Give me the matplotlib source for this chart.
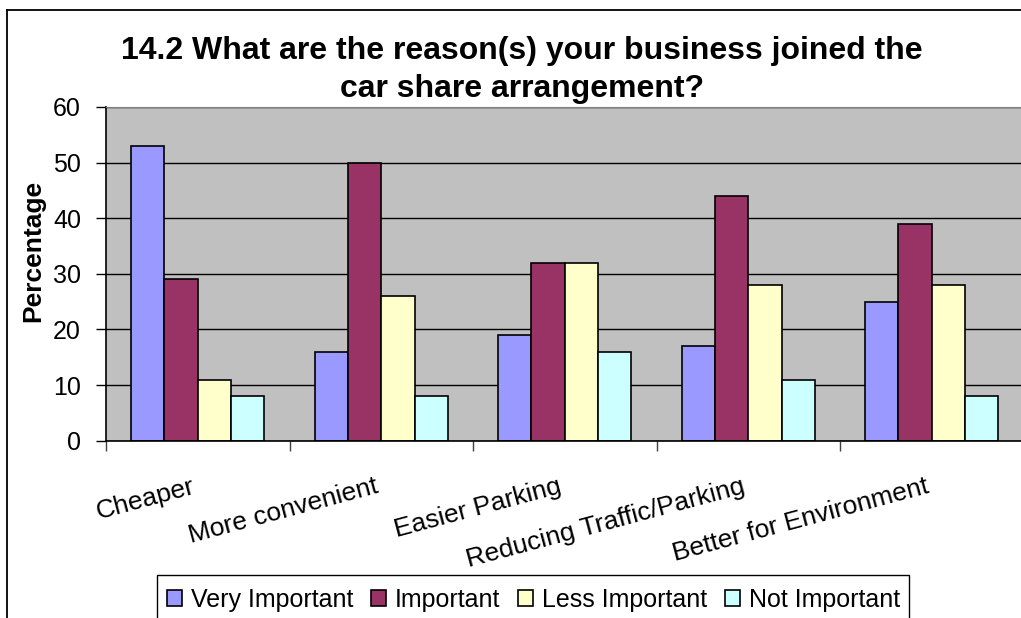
import numpy as np
import matplotlib
matplotlib.use('Agg')
import matplotlib.pyplot as plt
from matplotlib.lines import Line2D
from matplotlib.patches import Rectangle
from matplotlib.transforms import blended_transform_factory

plt.rcParams['font.family'] = ['Liberation Sans', 'DejaVu Sans']

reasons = ['Cheaper', 'More convenient', 'Easier Parking',
           'Reducing Traffic/Parking', 'Better for Environment']
levels = ['Very Important', 'Important', 'Less Important', 'Not Important']
very_important = [53, 16, 19, 17, 25]
important = [29, 50, 32, 44, 39]
less_important = [11, 26, 32, 28, 28]
not_important = [8, 8, 16, 11, 8]
series = [very_important, important, less_important, not_important]
colors = ['#9999FF', '#993366', '#FFFFCC', '#CCFFFF']

W, H = 1021, 618
fig = plt.figure(figsize=(W / 100, H / 100), dpi=100)
ax = fig.add_axes([106 / W, 1 - 440.7 / H, 917.5 / W, 333.7 / H])
ax.set_facecolor('#C0C0C0')

x = np.arange(len(reasons))
w = 1 / 5.5
bars = []
for j, (vals, col) in enumerate(zip(series, colors)):
    b = ax.bar(x + (j - 1.5) * w, vals, w, color=col, edgecolor='black',
               linewidth=1.2, label=levels[j])
    bars.append(b)

ax.set_xlim(-0.5, len(reasons) - 0.5)
ax.set_ylim(0, 60)
ax.set_yticks(range(0, 61, 10))
ax.yaxis.grid(True, color='black', lw=1.0)
ax.set_axisbelow(True)
ax.tick_params(axis='y', labelsize=18, length=7, width=1, pad=11)
ax.set_xticks(np.arange(-0.5, len(reasons), 1.0))
ax.set_xticklabels([])
ax.tick_params(axis='x', length=7, width=1, color='#404040')
for s in ['left', 'bottom']:
    ax.spines[s].set_color('black')
    ax.spines[s].set_linewidth(1.2)
ax.spines['top'].set_color('#808080')
ax.spines['right'].set_color('#808080')

ax.set_ylabel('Percentage', fontsize=19, fontweight='bold')
ax.yaxis.set_label_coords(-0.0665, 0.569)

# rotated category labels, right end anchored under each group
tr = blended_transform_factory(ax.transData, ax.transAxes)
for i, r in enumerate(reasons):
    ax.text(i - 0.02, -0.135, r, transform=tr, fontsize=19, rotation=15,
            rotation_mode='anchor', ha='right', va='center')

fig.text(522 / W, 1 - 51 / H,
         '14.2 What are the reason(s) your business joined the',
         fontsize=23, fontweight='bold', ha='center', va='center')
fig.text(522 / W, 1 - 89 / H, 'car share arrangement?',
         fontsize=23, fontweight='bold', ha='center', va='center')

# chart area border (top and left edges)
fig.add_artist(Line2D([7 / W, 1.01], [1 - 10 / H, 1 - 10 / H],
                      transform=fig.transFigure, color='black', lw=1.3))
fig.add_artist(Line2D([7 / W, 7 / W], [1 - 10 / H, -0.01],
                      transform=fig.transFigure, color='black', lw=1.3))

# legend box runs past the bottom edge of the chart
fig.add_artist(Rectangle((157 / W, -0.05), (909 - 157) / W, 0.05 + 43 / H,
                         transform=fig.transFigure, facecolor='white',
                         edgecolor='black', lw=1.0))
fig.legend(handles=bars, labels=levels, ncol=4, fontsize=18,
           loc='upper left', bbox_to_anchor=(157 / W, 1 - 578 / H),
           frameon=False, borderpad=0.38, handlelength=0.6, handleheight=0.6,
           handletextpad=0.36, columnspacing=0.72, borderaxespad=0)

fig.savefig('out.png', dpi=100)
